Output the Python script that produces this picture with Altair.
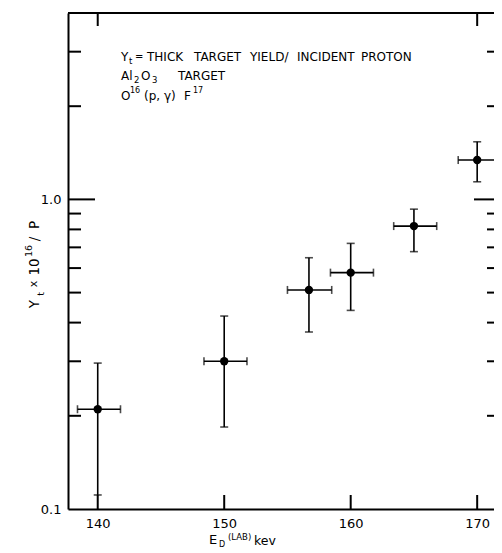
import altair as alt
import pandas as pd

# ---- data ----
energy = [140.0, 150.0, 156.7, 160.0, 165.0, 170.0]
yield_t = [0.21, 0.30, 0.51, 0.58, 0.82, 1.34]
y_lo = [0.111, 0.184, 0.373, 0.438, 0.678, 1.14]
y_hi = [0.296, 0.42, 0.648, 0.721, 0.93, 1.535]
x_lo = [138.4, 148.4, 155.0, 158.4, 163.4, 168.5]
x_hi = [141.8, 151.8, 158.5, 161.8, 166.8, 171.8]

x_tick_labels = [140, 150, 160, 170]
x_top_ticks = [140, 170]
y_tick_labels = [0.1, 1.0]
y_minor_ticks = [0.2, 0.3, 0.4, 0.5, 0.6, 0.7, 0.8, 0.9, 2.0, 3.0]
y_major_ticks = [1.0]

W, H = 426, 496
FONT = "DejaVu Sans"

df = pd.DataFrame({"E": energy, "Y": yield_t, "ylo": y_lo, "yhi": y_hi,
                   "xlo": x_lo, "xhi": x_hi})

xs = alt.Scale(domain=[137.65, 171.33], nice=False, zero=False)
ys = alt.Scale(type="log", domain=[0.1, 4.0], nice=False)
xaxis = alt.Axis(values=x_tick_labels, title=None, ticks=False, grid=False,
                 domainWidth=2, domainColor="black", labelFontSize=13,
                 labelFont=FONT, labelColor="black", labelPadding=8)
yaxis = alt.Axis(values=y_tick_labels, format=".1f", title=None, ticks=False,
                 grid=False, domainWidth=2, domainColor="black",
                 labelFontSize=13, labelFont=FONT, labelColor="black",
                 labelPadding=7)

def X(f):
    return alt.X(f, type="quantitative", scale=xs, axis=xaxis)

def Y(f):
    return alt.Y(f, type="quantitative", scale=ys, axis=yaxis)

base = alt.Chart(df)

xbars = base.mark_rule(color="black", strokeWidth=1.6).encode(
    x=X("xlo"), x2="xhi", y=Y("Y"))
ybars = base.mark_rule(color="black", strokeWidth=1.6).encode(
    x=X("E"), y=Y("ylo"), y2="yhi")
ycap_lo = base.mark_tick(orient="horizontal", color="black", size=8,
                         thickness=1.6).encode(x=X("E"), y=Y("ylo"))
ycap_hi = base.mark_tick(orient="horizontal", color="black", size=8,
                         thickness=1.6).encode(x=X("E"), y=Y("yhi"))
xcap_lo = base.mark_tick(orient="vertical", color="black", size=8,
                         thickness=1.6).encode(x=X("xlo"), y=Y("Y"))
xcap_hi = base.mark_tick(orient="vertical", color="black", size=8,
                         thickness=1.6).encode(x=X("xhi"), y=Y("Y"))
points = base.mark_point(filled=True, color="black", size=70, opacity=1,
                         shape="circle").encode(x=X("E"), y=Y("Y"))

minor_df = pd.DataFrame({"v": y_minor_ticks})
major_df = pd.DataFrame({"v": y_major_ticks})
xt_df = pd.DataFrame({"v": x_tick_labels})
xtop_df = pd.DataFrame({"v": x_top_ticks})

left_minor = alt.Chart(minor_df).mark_rule(color="black", strokeWidth=2).encode(
    y=Y("v"), x=alt.value(0), x2=alt.value(13))
left_major = alt.Chart(major_df).mark_rule(color="black", strokeWidth=2).encode(
    y=Y("v"), x=alt.value(0), x2=alt.value(27))
right_minor = alt.Chart(minor_df).mark_rule(color="black", strokeWidth=2).encode(
    y=Y("v"), x=alt.value(W - 7), x2=alt.value(W))
right_major = alt.Chart(major_df).mark_rule(color="black", strokeWidth=2).encode(
    y=Y("v"), x=alt.value(W - 20), x2=alt.value(W))
bottom_ticks = alt.Chart(xt_df).mark_rule(color="black", strokeWidth=2).encode(
    x=X("v"), y=alt.value(H), y2=alt.value(H - 14))
top_ticks = alt.Chart(xtop_df).mark_rule(color="black", strokeWidth=2).encode(
    x=X("v"), y=alt.value(0), y2=alt.value(13))
top_border = alt.Chart(xtop_df).mark_rule(color="black", strokeWidth=2).encode(
    x=alt.value(0), x2=alt.value(W), y=alt.value(0))

one = pd.DataFrame({"a": [0]})

def txt(s, x, y, size=12, angle=0, align="left"):
    return alt.Chart(one).mark_text(
        text=s, font=FONT, fontSize=size, color="black", align=align,
        baseline="middle", angle=angle).encode(x=alt.value(x), y=alt.value(y))

ox, oy = 68, 13
notes = [
    # line 1
    txt("Y", 121 - ox, 57 - oy),
    txt("t", 129 - ox, 61 - oy, size=8.5),
    txt("=", 135 - ox, 57 - oy, size=10),
    txt("THICK", 147 - ox, 57 - oy),
    txt("TARGET", 194 - ox, 57 - oy),
    txt("YIELD/", 250 - ox, 57 - oy),
    txt("INCIDENT", 297 - ox, 57 - oy),
    txt("PROTON", 361 - ox, 57 - oy),
    # line 2
    txt("Al", 121 - ox, 76 - oy),
    txt("2", 134 - ox, 80 - oy, size=8.5),
    txt("O", 141 - ox, 76 - oy),
    txt("3", 152 - ox, 80 - oy, size=8.5),
    txt("TARGET", 178 - ox, 76 - oy),
    # line 3
    txt("O", 121 - ox, 96 - oy),
    txt("16", 130 - ox, 91 - oy, size=8),
    txt("(p, \u03b3)", 144 - ox, 96 - oy),
    txt("F", 184 - ox, 96 - oy),
    txt("17", 193 - ox, 91 - oy, size=8),
    # y title (rotated pieces, reading upward)
    txt("Y", 35 - ox, 304 - oy, size=13.5, angle=270, align="center"),
    txt("t", 41 - ox, 294 - oy, size=9.5, angle=270, align="center"),
    txt("x", 34 - ox, 284 - oy, size=11, angle=270, align="center"),
    txt("10", 35 - ox, 267 - oy, size=13.5, angle=270, align="center"),
    txt("16", 29 - ox, 251 - oy, size=9.5, angle=270, align="center"),
    txt("/", 35 - ox, 239 - oy, size=13.5, angle=270, align="center"),
    txt("P", 35 - ox, 225 - oy, size=13.5, angle=270, align="center"),
    # x title
    txt("E", 209 - ox, 540 - oy, size=13),
    txt("D", 219 - ox, 545 - oy, size=8),
    txt("(LAB)", 228 - ox, 537 - oy, size=8.5),
    txt("kev", 254 - ox, 541 - oy, size=12.5),
]

chart = alt.layer(
    top_border, left_minor, left_major, right_minor, right_major,
    bottom_ticks, top_ticks, xbars, ybars, ycap_lo, ycap_hi, xcap_lo,
    xcap_hi, points, *notes
).properties(
    width=W, height=H,
    autosize=alt.AutoSizeParams(type="none"),
    padding={"left": 60, "top": 5, "right": 0, "bottom": 40},
    background="white",
).configure_view(stroke=None)

chart.save("out.html", embed_options={"renderer": "svg", "actions": False})
